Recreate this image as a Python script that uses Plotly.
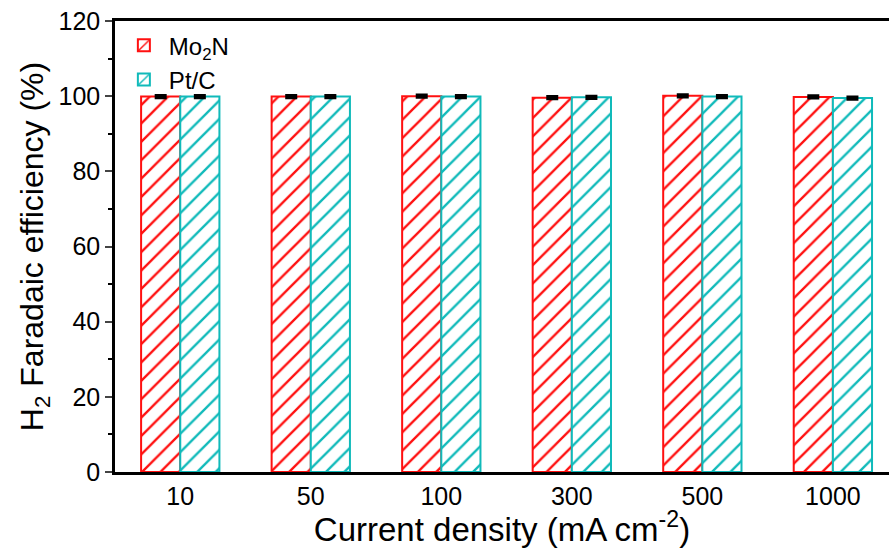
import plotly.graph_objects as go

categories = ["10", "50", "100", "300", "500", "1000"]
mo2n = [99.9, 99.9, 100.0, 99.6, 100.1, 99.8]
mo2n_err = [0.3, 0.3, 0.3, 0.3, 0.3, 0.3]
ptc = [99.9, 99.9, 99.9, 99.7, 99.9, 99.5]
ptc_err = [0.3, 0.3, 0.3, 0.3, 0.3, 0.3]

RED = "#ff1010"
CYAN = "#10baba"

fig = go.Figure()
for name, vals, err, col in [("Mo<sub>2</sub>N", mo2n, mo2n_err, RED),
                             ("Pt/C", ptc, ptc_err, CYAN)]:
    fig.add_trace(go.Bar(
        x=categories, y=vals, name=name,
        marker=dict(color="white",
                    line=dict(color=col, width=2),
                    pattern=dict(shape="/", fgcolor=col, bgcolor="white", fgopacity=1,
                                 size=13, solidity=0.18, fillmode="replace")),
        error_y=dict(type="data", array=err, visible=True, color="black",
                     thickness=3, width=6),
    ))

fig.update_layout(
    width=889, height=548,
    margin=dict(l=115, r=0, t=21, b=76, autoexpand=False),
    paper_bgcolor="white", plot_bgcolor="white",
    barmode="group", bargap=0.4, bargroupgap=0,
    font=dict(family="Liberation Sans, Arial", color="black"),
    showlegend=True,
    legend=dict(x=0.005, y=0.995, xanchor="left", yanchor="top",
                font=dict(size=24), bgcolor="rgba(0,0,0,0)",
                itemwidth=40, tracegroupgap=0),
)
fig.update_xaxes(
    range=[-0.5, 5.43], showline=True, linecolor="black", linewidth=2.5,
    mirror=True, ticks="", showgrid=False, tickfont=dict(size=25),
    automargin=False,
    title=dict(text="Current density (mA cm<sup>-2</sup>)", font=dict(size=33), standoff=1),
)
fig.update_yaxes(
    range=[0, 120], dtick=20, showline=True, linecolor="black", linewidth=2.5,
    ticks="outside", ticklen=7, tickwidth=2, showgrid=False, zeroline=False,
    tickfont=dict(size=25), automargin=False,
    minor=dict(ticks="outside", ticklen=4, dtick=10, tickwidth=1.5, tickcolor="black"),
    title=dict(text="H<sub>2</sub> Faradaic efficiency (%)", font=dict(size=32), standoff=6),
)

fig.write_html("out.html", config={"displayModeBar": False},
               post_script="document.body.style.margin='0px';")
